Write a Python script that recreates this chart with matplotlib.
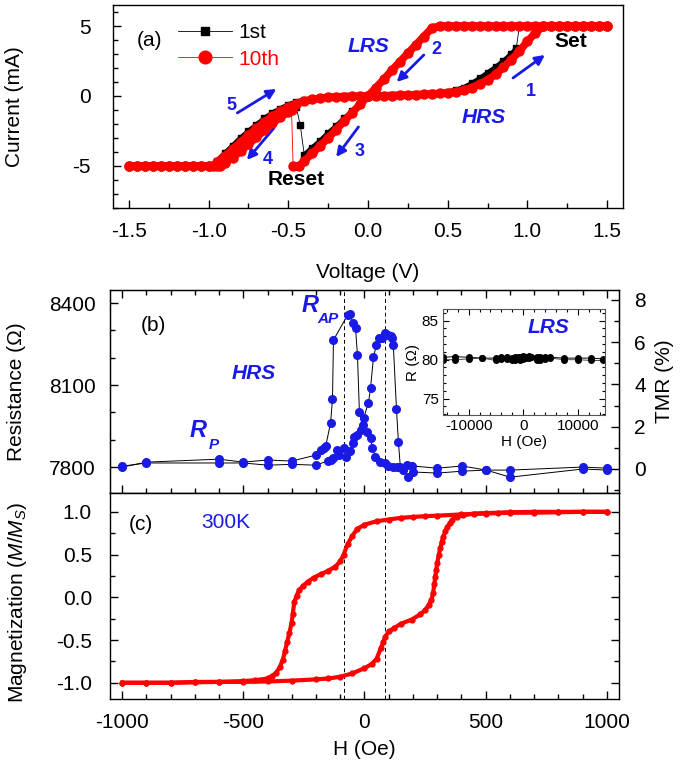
import numpy as np
import matplotlib
matplotlib.use('Agg')
import matplotlib.pyplot as plt
from matplotlib.ticker import MultipleLocator


# ---------------- panel (a): I-V sweeps ----------------
# 1st cycle (black squares)
V1_SET = [0.0, 0.05, 0.1, 0.15, 0.2, 0.25, 0.3, 0.35, 0.4, 0.45, 0.5, 0.55, 0.6, 0.65, 0.7, 0.75, 0.8, 0.85, 0.9,
          0.93, 0.95, 1.0, 1.05, 1.1, 1.15, 1.2, 1.25, 1.3, 1.35, 1.4, 1.45, 1.5]
I1_SET = [0.0, 0.01, 0.02, 0.04, 0.06, 0.08, 0.11, 0.15, 0.19, 0.24, 0.3, 0.42, 0.6, 0.9, 1.25, 1.65, 2.05, 2.5, 3.0,
          3.4, 5, 5, 5, 5, 5, 5, 5, 5, 5, 5, 5, 5]
V1_NEG = [0.0, -0.05, -0.1, -0.15, -0.2, -0.25, -0.3, -0.35, -0.4, -0.425, -0.45, -0.5, -0.55, -0.6, -0.65, -0.7,
          -0.75, -0.8, -0.85, -0.9, -0.95, -1.0, -1.05, -1.1, -1.15, -1.2, -1.25, -1.3, -1.35, -1.4, -1.45, -1.5]
I1_NEG = [0.0, -0.55, -1.1, -1.6, -2.15, -2.65, -3.2, -3.7, -4.2, -2.1, -0.8, -1.0, -1.35, -1.8, -2.25, -2.75,
          -3.25, -3.75, -4.2, -4.65, -5, -5, -5, -5, -5, -5, -5, -5, -5, -5, -5, -5]
V1_RET = [-1.5, -1.45, -1.4, -1.35, -1.3, -1.25, -1.2, -1.15, -1.1, -1.05, -1.0, -0.98, -0.95, -0.9, -0.85, -0.8,
          -0.75, -0.7, -0.65, -0.6, -0.55, -0.5, -0.45, -0.4, -0.35, -0.3, -0.25, -0.2, -0.15, -0.1, -0.05, 0.0]
I1_RET = [-5, -5, -5, -5, -5, -5, -5, -5, -5, -5, -5, -5, -4.65, -4.1, -3.55, -3.0,
          -2.5, -2.05, -1.6, -1.2, -0.9, -0.62, -0.42, -0.28, -0.18, -0.11, -0.07, -0.04, -0.02, -0.01, 0.0, 0.0]

# 10th cycle (red circles)
V10_SET = [0.0, 0.05, 0.1, 0.15, 0.2, 0.25, 0.3, 0.35, 0.4, 0.45, 0.5, 0.55, 0.6, 0.65, 0.7, 0.75, 0.8, 0.85,
           0.9, 0.95, 1.0, 1.05, 1.1, 1.15, 1.2, 1.25, 1.3, 1.35, 1.4, 1.45, 1.5]
I10_SET = [0.0, 0.01, 0.02, 0.03, 0.05, 0.07, 0.09, 0.12, 0.15, 0.18, 0.22, 0.3, 0.4, 0.6, 0.85, 1.15, 1.55, 2.05,
           2.6, 3.2, 3.9, 4.5, 5, 5, 5, 5, 5, 5, 5, 5, 5]
V10_NEG = [0.0, -0.05, -0.1, -0.15, -0.2, -0.25, -0.3, -0.35, -0.4, -0.43, -0.47, -0.48, -0.5, -0.55, -0.6, -0.65,
           -0.7, -0.75, -0.8, -0.85, -0.9, -0.93, -0.95, -1.0, -1.05, -1.1, -1.15, -1.2, -1.25, -1.3, -1.35, -1.4,
           -1.45, -1.5]
I10_NEG = [0.0, -0.6, -1.2, -1.8, -2.4, -3.0, -3.55, -4.1, -4.65, -5, -5, -1.0, -1.15, -1.5, -1.95, -2.45,
           -2.95, -3.45, -3.95, -4.4, -4.8, -5, -5, -5, -5, -5, -5, -5, -5, -5, -5, -5,
           -5, -5]
V10_RET = [-1.5, -1.45, -1.4, -1.35, -1.3, -1.25, -1.2, -1.15, -1.1, -1.05, -1.0, -0.97, -0.95, -0.9, -0.85, -0.8,
           -0.75, -0.7, -0.65, -0.6, -0.55, -0.5, -0.45, -0.4, -0.35, -0.3, -0.25, -0.2, -0.15, -0.1, -0.05, 0.0]
I10_RET = [-5, -5, -5, -5, -5, -5, -5, -5, -5, -5, -5, -5, -4.75, -4.3, -3.8, -3.3,
           -2.8, -2.3, -1.85, -1.45, -1.1, -0.8, -0.55, -0.38, -0.25, -0.16, -0.1, -0.06, -0.04, -0.02, -0.01, 0.0]

# LRS return branch (+1.5 V -> 0), shared by both cycles
V_LRS = [1.5, 1.45, 1.4, 1.35, 1.3, 1.25, 1.2, 1.15, 1.1, 1.05, 1.0, 0.95, 0.9, 0.85, 0.8, 0.75, 0.7, 0.65, 0.6,
         0.55, 0.5, 0.45, 0.4, 0.35, 0.3, 0.25, 0.2, 0.15, 0.1, 0.05, 0.0]
I_LRS = [5, 5, 5, 5, 5, 5, 5, 5, 5, 5, 5, 5, 5, 5, 5, 5, 5, 5, 5,
         5, 5, 5, 4.85, 4.25, 3.65, 3.05, 2.45, 1.85, 1.2, 0.6, 0.0]

# ---------------- panel (b): HRS resistance vs field ----------------
H_B1 = [-1000, -900, -600, -500, -400, -300, -200, -181, -169, -160, -140, -132, -128, -70, -58, -49, -37, -29,
        -21, -8, -4, 16, 25, 37, 49, 58, 74, 86, 99, 108, 115, 119, 132, 140, 148, 177, 198, 300, 403, 502, 601,
        901, 1000]
R_B1 = [7800, 7818, 7829, 7818, 7826, 7822, 7844, 7862, 7870, 7877, 7961, 8049, 8265, 8356, 8360, 8327, 8309, 8210,
        8001, 7954, 7979, 8034, 8089, 8202, 8246, 8272, 8272, 8290, 8283, 8278, 8272, 8246, 8012, 7891, 7800, 7807,
        7804, 7796, 7804, 7789, 7789, 7800, 7796]
H_B2 = [-1000, -900, -600, -500, -400, -300, -202, -152, -140, -128, -115, -107, -86, -78, -60, -49, -45, -29, -16,
        12, 25, 33, 45, 66, 86, 99, 119, 136, 160, 181, 202, 300, 403, 502, 601, 901, 1000]
R_B2 = [7803, 7815, 7815, 7815, 7807, 7810, 7807, 7822, 7826, 7833, 7862, 7844, 7870, 7837, 7860, 7888, 7910, 7917,
        7935, 7928, 7906, 7870, 7837, 7818, 7815, 7804, 7800, 7800, 7789, 7763, 7782, 7778, 7785, 7789, 7763, 7793,
        7789]

# inset: LRS resistance vs field
H_LRS = [-14700, -12500, -10000, -7500, -5000, -4000, -3000, -2000, -1500, -1000, -500, 0, 500, 1000, 1500, 2500,
         3000, 4000, 5000, 7500, 10000, 12500, 14700]
R_LRS_UP = [80.3, 80.4, 80.3, 80.2, 80.2, 80.3, 80.3, 80.2, 80.3, 80.4, 80.4, 80.5, 80.4, 80.5, 80.4, 80.3,
            80.3, 80.4, 80.3, 80.2, 80.2, 80.2, 80.1]
R_LRS_DN = [80.0, 80.0, 80.1, 80.2, 79.9, 80.1, 80.1, 80.0, 80.0, 80.1, 80.0, 80.1, 80.2, 80.2, 80.3, 80.0,
            80.0, 80.1, 80.2, 80.0, 80.0, 79.9, 79.9]

# ---------------- panel (c): M-H loop ----------------
H_DESC = [1000, 900, 800, 700, 600, 500, 400, 300, 250, 200, 150, 100, 50, 0, -30, -50, -70, -86, -100, -120, -150,
          -180, -210, -235, -255, -270, -280, -290, -296, -301, -310, -319, -328, -337, -350, -364, -380, -400,
          -450, -500, -600, -700, -800, -900, -1000]
M_DESC = [1.0, 1.0, 0.995, 0.99, 0.99, 0.98, 0.97, 0.955, 0.95, 0.94, 0.93, 0.91, 0.89, 0.85, 0.80, 0.72, 0.62,
          0.50, 0.42, 0.36, 0.31, 0.27, 0.23, 0.18, 0.13, 0.08, 0.02, -0.06, -0.2, -0.3, -0.42, -0.52, -0.63,
          -0.73, -0.82, -0.88, -0.92, -0.95, -0.97, -0.98, -0.99, -0.99, -1.0, -1.0, -1.0]
H_ASC = [-1000, -900, -800, -700, -600, -500, -400, -300, -200, -150, -100, -50, 0, 30, 50, 68, 78, 86, 100, 122,
         150, 195, 230, 250, 265, 276, 283, 288, 292, 296, 300, 306, 313, 319, 325, 333, 342, 352, 362, 380, 407,
         450, 500, 550, 600, 700, 800, 900, 1000]
M_ASC = [-1.0, -1.0, -1.0, -0.995, -0.99, -0.99, -0.985, -0.975, -0.96, -0.95, -0.93, -0.89, -0.83, -0.78, -0.72,
         -0.59, -0.52, -0.46, -0.40, -0.36, -0.31, -0.26, -0.2, -0.15, -0.09, -0.03, 0.05, 0.15, 0.24, 0.32, 0.40,
         0.49, 0.58, 0.65, 0.71, 0.77, 0.82, 0.87, 0.91, 0.94, 0.96, 0.98, 0.985, 0.99, 0.995, 1.0, 1.0, 1.0, 1.0]

SWITCH_FIELDS = [-85, 85]

BLUE = '#1a1ae6'
FS = 15


def main():
    plt.rcParams['font.family'] = 'Liberation Sans'
    plt.rcParams['mathtext.fontset'] = 'custom'
    plt.rcParams['mathtext.rm'] = 'Liberation Sans'
    plt.rcParams['mathtext.it'] = 'Liberation Sans:italic'
    plt.rcParams['axes.unicode_minus'] = False

    fig = plt.figure(figsize=(6.85, 7.7), dpi=100)
    ax_a = fig.add_axes([0.165, 0.7299, 0.7445, 0.2636])
    ax_b = fig.add_axes([0.1606, 0.3597, 0.743, 0.2636])
    ax_c = fig.add_axes([0.1606, 0.0922, 0.743, 0.2675])
    ax_in = fig.add_axes([0.6467, 0.461, 0.2365, 0.1377])

    draw_iv(ax_a)
    draw_tmr(ax_b)
    draw_inset(ax_in)
    draw_mh(ax_c)

    fig.savefig('out.png', dpi=100)


def style_axes(ax, top=False, right=False, size=FS):
    ax.tick_params(which='both', direction='in', top=top, right=right, labelsize=size, width=1)
    ax.tick_params(which='major', length=6)
    ax.tick_params(which='minor', length=3.5)
    for s in ax.spines.values():
        s.set_linewidth(1.0)


def band_line(v, i):
    """Insert NaN where the sweep jumps (set/reset), so the thick band is broken there."""
    xs, ys = [v[0]], [i[0]]
    for k in range(1, len(v)):
        dv = abs(v[k] - v[k - 1])
        di = abs(i[k] - i[k - 1])
        if di > 40 * max(dv, 1e-9):
            xs.append(np.nan)
            ys.append(np.nan)
        xs.append(v[k])
        ys.append(i[k])
    return xs, ys


def draw_iv(ax):
    v1 = V1_SET + V_LRS + V1_NEG + V1_RET
    i1 = I1_SET + I_LRS + I1_NEG + I1_RET
    v10 = V10_SET + V_LRS + V10_NEG + V10_RET
    i10 = I10_SET + I_LRS + I10_NEG + I10_RET

    bx, by = band_line(v1, i1)
    ax.plot(bx, by, '-', color='black', lw=3.5, solid_capstyle='butt', zorder=2)
    ax.plot(v1, i1, '-', color='black', lw=0.6, marker='s', ms=4.5, label='1st', zorder=3)
    bx, by = band_line(v10, i10)
    ax.plot(bx, by, '-', color='red', lw=5.5, solid_capstyle='butt', zorder=4)
    ax.plot(v10, i10, '-', color='red', lw=0.6, marker='o', ms=6.5, label='10th', zorder=5)

    ax.set_xlim(-1.6, 1.6)
    ax.set_ylim(-8, 6.5)
    ax.xaxis.set_major_locator(MultipleLocator(0.5))
    ax.xaxis.set_minor_locator(MultipleLocator(0.25))
    ax.yaxis.set_major_locator(MultipleLocator(5))
    ax.yaxis.set_minor_locator(MultipleLocator(1))
    style_axes(ax)
    ax.tick_params(axis='y', pad=16)
    ax.tick_params(axis='x', pad=10)
    ax.xaxis.set_major_formatter(plt.FuncFormatter(lambda x, p: f'{x:.1f}'))
    ax.yaxis.set_major_formatter(plt.FuncFormatter(lambda x, p: f'{x:.0f}'))
    ax.set_xlabel('Voltage (V)', fontsize=FS)
    ax.set_ylabel('Current (mA)', fontsize=FS)
    ax.xaxis.set_label_coords(0.5, -0.27)
    ax.yaxis.set_label_coords(-0.175, 0.5)

    leg = ax.legend(loc='upper left', bbox_to_anchor=(0.127, 0.91), frameon=False, fontsize=FS,
                    borderpad=0, borderaxespad=0, handlelength=2.6, handletextpad=0.3,
                    labelspacing=0.35, markerscale=1.4)
    leg.get_texts()[1].set_color('red')

    ax.text(-1.37, 4.0, '(a)', fontsize=FS, ha='center', va='center')
    bold_it = dict(color=BLUE, fontsize=FS, fontweight='bold', fontstyle='italic', ha='center', va='center')
    ax.text(0.0, 3.5, 'LRS', **bold_it)
    ax.text(0.725, -1.57, 'HRS', **bold_it)
    ax.text(1.275, 3.86, 'Set', fontsize=FS, fontweight='bold', ha='center', va='center')
    ax.text(-0.45, -6.0, 'Reset', fontsize=FS, fontweight='bold', ha='center', va='center')

    # numbered sweep arrows: (label, label pos, arrow start, arrow end)
    arrows = [('1', (1.025, 0.29), (0.91, 1.29), (1.11, 2.93)),
              ('2', (0.43, 3.29), (0.35, 2.93), (0.18, 1.0)),
              ('3', (-0.05, -4.0), (-0.06, -2.21), (-0.2, -4.36)),
              ('4', (-0.63, -4.57), (-0.59, -2.29), (-0.76, -4.57)),
              ('5', (-0.86, -0.71), (-0.82, -1.21), (-0.575, 0.5))]
    for lab, pos, start, end in arrows:
        ax.annotate('', xy=end, xytext=start,
                    arrowprops=dict(arrowstyle='-|>', color=BLUE, lw=2, mutation_scale=14,
                                    shrinkA=0, shrinkB=0))
        ax.text(pos[0], pos[1], lab, color=BLUE, fontsize=13, fontweight='bold', ha='center', va='center')


def draw_tmr(ax):
    for h in SWITCH_FIELDS:
        ax.axvline(h, color='black', ls=(0, (4, 3)), lw=0.7, zorder=1)
    for h, r in [(H_B1, R_B1), (H_B2, R_B2)]:
        ax.plot(h, r, '-', color='black', lw=0.7, zorder=2)
        ax.plot(h, r, 'o', color=BLUE, ms=5.5, zorder=3)

    ax.set_xlim(-1050, 1050)
    ax.set_ylim(7705, 8448)
    ax.xaxis.set_major_locator(MultipleLocator(500))
    ax.xaxis.set_minor_locator(MultipleLocator(100))
    ax.yaxis.set_major_locator(MultipleLocator(300))
    ax.yaxis.set_minor_locator(MultipleLocator(100))
    style_axes(ax, top=True)
    ax.tick_params(axis='x', labelbottom=False)
    ax.tick_params(axis='y', pad=10)
    ax.set_ylabel('Resistance (\u03a9)', fontsize=FS)
    ax.yaxis.set_label_coords(-0.165, 0.5)

    ax.text(-872, 8320, '(b)', fontsize=FS, ha='center', va='center')
    ax.text(-457, 8144, 'HRS', color=BLUE, fontsize=FS, fontweight='bold', fontstyle='italic',
            ha='center', va='center')
    ax.text(-225, 8393, 'R', color=BLUE, fontsize=17, fontweight='bold', fontstyle='italic',
            ha='center', va='center')
    ax.text(-150, 8343, 'AP', color=BLUE, fontsize=11, fontweight='bold', fontstyle='italic',
            ha='center', va='center')
    ax.text(-688, 7935, 'R', color=BLUE, fontsize=17, fontweight='bold', fontstyle='italic',
            ha='center', va='center')
    ax.text(-622, 7882, 'P', color=BLUE, fontsize=11, fontweight='bold', fontstyle='italic',
            ha='center', va='center')

    ax2 = ax.twinx()
    ax2.set_ylim(-1.14, 8.47)
    ax2.yaxis.set_major_locator(MultipleLocator(2))
    ax2.yaxis.set_minor_locator(MultipleLocator(1))
    ax2.tick_params(which='both', direction='in', labelsize=FS, width=1)
    ax2.tick_params(which='major', length=6)
    ax2.tick_params(which='minor', length=3.5)
    ax2.tick_params(axis='y', pad=11)
    ax2.set_ylabel('TMR (%)', fontsize=FS, rotation=90)
    ax2.yaxis.set_label_coords(1.07, 0.55)


def draw_inset(ax):
    ax.plot(H_LRS, R_LRS_UP, '-', color='black', lw=0.7, marker='o', ms=4)
    ax.plot(H_LRS, R_LRS_DN, '-', color='#444444', lw=0.7, marker='o', ms=4, mfc='black', mec='black')
    ax.set_xlim(-14700, 15000)
    ax.set_ylim(72.9, 86.5)
    ax.xaxis.set_major_locator(MultipleLocator(10000))
    ax.xaxis.set_minor_locator(MultipleLocator(2000))
    ax.yaxis.set_major_locator(MultipleLocator(5))
    ax.yaxis.set_minor_locator(MultipleLocator(1))
    ax.tick_params(which='both', direction='in', top=True, right=True, labelsize=11, width=0.8)
    ax.tick_params(which='major', length=4, pad=3)
    ax.tick_params(which='minor', length=2)
    for s in ax.spines.values():
        s.set_linewidth(0.8)
        s.set_color('#555555')
    ax.set_xlabel('H (Oe)', fontsize=11, labelpad=1)
    ax.set_ylabel('R (\u03a9)', fontsize=11, labelpad=1)
    ax.text(4590, 84.1, 'LRS', color=BLUE, fontsize=FS, fontweight='bold', fontstyle='italic',
            ha='center', va='center')


def draw_mh(ax):
    for h in SWITCH_FIELDS:
        ax.axvline(h, color='black', ls=(0, (4, 3)), lw=0.7, zorder=1)
    for h, m in [(H_DESC, M_DESC), (H_ASC, M_ASC)]:
        ax.plot(h, m, '-', color='black', lw=0.6, zorder=2)
        ax.plot(h, m, '-', color='red', lw=3, zorder=3)
        ax.plot(h, m, 'o', color='red', ms=3.5, zorder=4)

    ax.set_xlim(-1050, 1050)
    ax.set_ylim(-1.19, 1.22)
    ax.xaxis.set_major_locator(MultipleLocator(500))
    ax.xaxis.set_minor_locator(MultipleLocator(100))
    ax.yaxis.set_major_locator(MultipleLocator(0.5))
    ax.yaxis.set_minor_locator(MultipleLocator(0.25))
    style_axes(ax, right=True)
    ax.tick_params(axis='y', pad=13)
    ax.tick_params(axis='x', pad=10)
    ax.yaxis.set_major_formatter(plt.FuncFormatter(lambda x, p: f'{x:.1f}'))
    ax.set_xlabel('H (Oe)', fontsize=FS)
    ax.set_ylabel('Magnetization ($M/M_S$)', fontsize=FS)
    ax.xaxis.set_label_coords(0.5, -0.2)
    ax.yaxis.set_label_coords(-0.16, 0.47)

    ax.text(-922, 0.85, '(c)', fontsize=FS, ha='center', va='center')
    ax.text(-572, 0.87, '300K', color=BLUE, fontsize=FS, ha='center', va='center')


if __name__ == "__main__":
    main()
